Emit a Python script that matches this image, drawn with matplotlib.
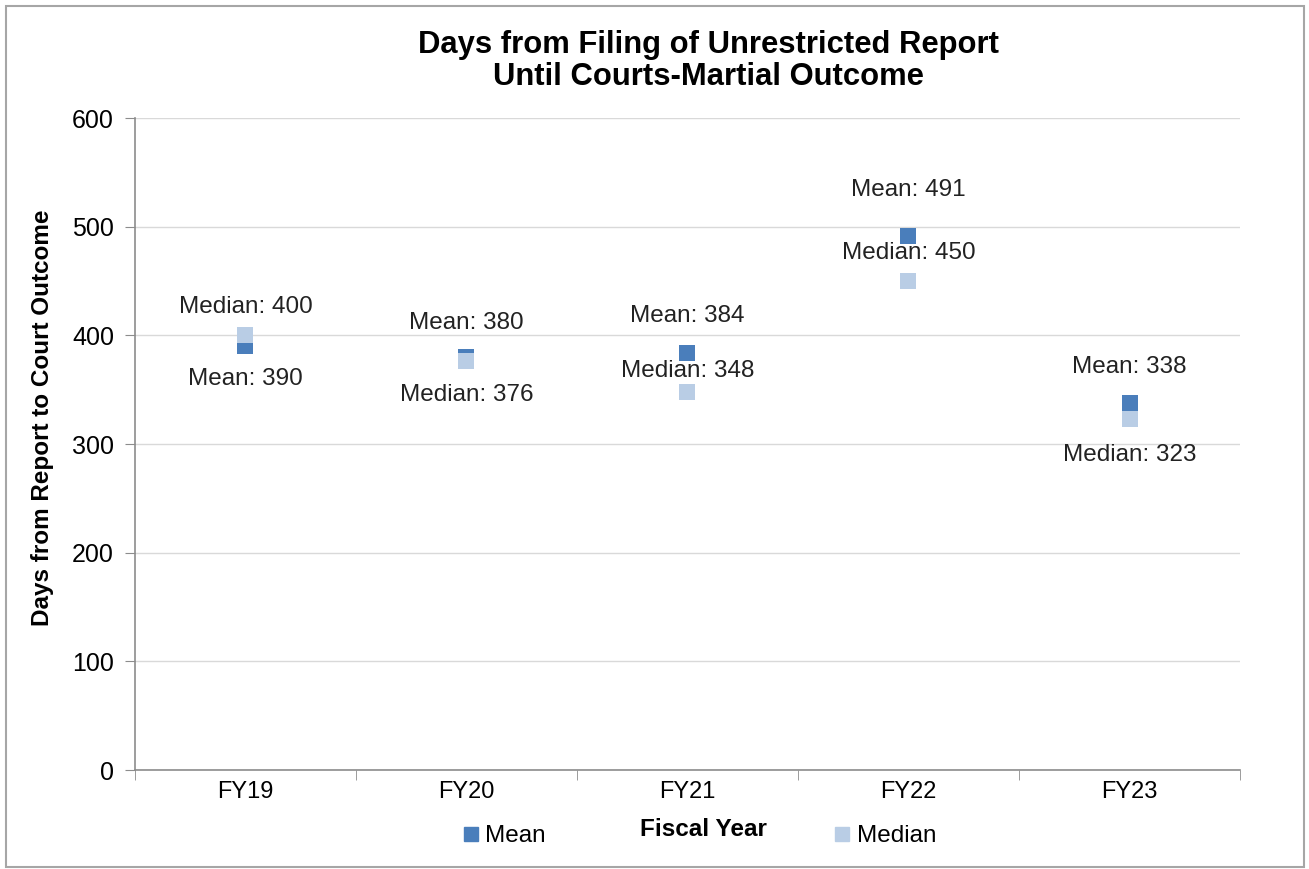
import matplotlib.pyplot as plt
from matplotlib.patches import Rectangle
from matplotlib.lines import Line2D

plt.rcParams['font.family'] = ['Liberation Sans', 'DejaVu Sans']

# Data
years = ['FY19', 'FY20', 'FY21', 'FY22', 'FY23']
mean_days = [390, 380, 384, 491, 338]
median_days = [400, 376, 348, 450, 323]

# label offsets in pixels (positive = above the marker)
mean_off = [-33, 34, 37, 46, 36]
median_off = [28, -34, 21, 28, -36]

mean_color = '#4a7ebb'
median_color = '#b9cde5'
axis_gray = '#8c8c8c'

fig = plt.figure(figsize=(13.09, 8.69), dpi=100)
ax = fig.add_axes([0.1031, 0.1139, 0.8442, 0.7503])

x = list(range(len(years)))
ax.plot(x, mean_days, 's', color=mean_color, markersize=12, markeredgewidth=0, zorder=3)
ax.plot(x, median_days, 's', color=median_color, markersize=12, markeredgewidth=0, zorder=4)

for i in x:
    ax.annotate(f'Mean: {mean_days[i]}', (i, mean_days[i]), xytext=(0, mean_off[i]),
                textcoords='offset pixels', ha='center', va='center', fontsize=17.5, color='#222222')
    ax.annotate(f'Median: {median_days[i]}', (i, median_days[i]), xytext=(0, median_off[i]),
                textcoords='offset pixels', ha='center', va='center', fontsize=17.5, color='#222222')

ax.set_xlim(-0.5, len(years) - 0.5)
ax.set_ylim(0, 600)
ax.set_yticks(range(0, 601, 100))
ax.set_xticks(x)
ax.set_xticklabels(years, fontsize=17)
ax.set_xticks([i - 0.5 for i in range(len(years) + 1)], minor=True)
ax.tick_params(axis='y', labelsize=18, length=7, color=axis_gray, pad=8)
ax.tick_params(axis='x', which='major', length=0, pad=8)
ax.tick_params(axis='x', which='minor', length=7, color=axis_gray)

ax.grid(axis='y', color='#d9d9d9', linewidth=1)
ax.set_axisbelow(True)
for s in ['top', 'right']:
    ax.spines[s].set_visible(False)
for s in ['left', 'bottom']:
    ax.spines[s].set_color(axis_gray)
    ax.spines[s].set_linewidth(1.2)

# titles and axis labels
fig.text(708 / 1309, 1 - 61 / 869, 'Days from Filing of Unrestricted Report\nUntil Courts-Martial Outcome',
         ha='center', va='center', fontsize=22.3, fontweight='bold', linespacing=1.08)
fig.text(43 / 1309, 1 - 418 / 869, 'Days from Report to Court Outcome', rotation=90,
         ha='center', va='center', fontsize=17.5, fontweight='bold')
fig.text(703 / 1309, 1 - 830 / 869, 'Fiscal Year', ha='center', va='center',
         fontsize=17.5, fontweight='bold')

# legend
handles = [Line2D([], [], marker='s', linestyle='none', color=mean_color, markersize=10),
           Line2D([], [], marker='s', linestyle='none', color=median_color, markersize=10)]
fig.legend(handles, ['Mean', 'Median'], loc='center', bbox_to_anchor=(700 / 1309, 1 - 836 / 869),
           ncol=2, frameon=False, fontsize=17.5, handlelength=0.6, handletextpad=0.3,
           columnspacing=11.9)

# outer border
fig.patches.append(Rectangle((6 / 1309, 2 / 869), 1298 / 1309, 861 / 869, transform=fig.transFigure,
                             fill=False, edgecolor='#a6a6a6', linewidth=1.5))

fig.savefig('out.png', dpi=100)
